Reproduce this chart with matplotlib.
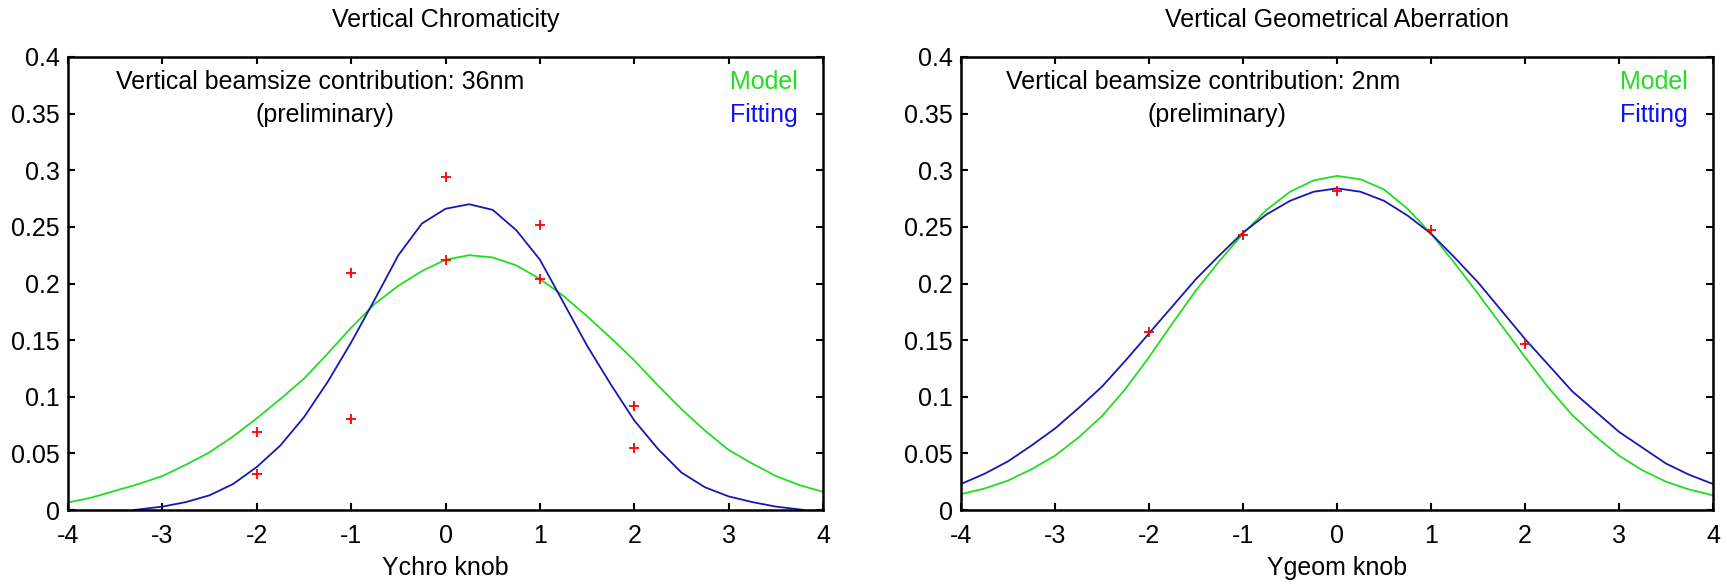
import numpy as np
import matplotlib
matplotlib.use("Agg")
import matplotlib.pyplot as plt

# ─── data ───
chro_pts_x = [-2, -2, -1, -1, 0, 0, 1, 1, 2, 2]
chro_pts_y = [0.069, 0.032, 0.209, 0.080, 0.294, 0.221, 0.252, 0.204, 0.092, 0.055]

chro_model_x = [-4, -3.75, -3.5, -3.25, -3, -2.75, -2.5, -2.25, -2, -1.75, -1.5,
                -1.25, -1, -0.75, -0.5, -0.25, 0, 0.25, 0.5, 0.75, 1, 1.25, 1.5,
                1.75, 2, 2.25, 2.5, 2.75, 3, 3.25, 3.5, 3.75, 4]
chro_model_y = [0.0066, 0.011, 0.017, 0.023, 0.030, 0.040, 0.051, 0.065, 0.081,
                0.098, 0.116, 0.138, 0.161, 0.182, 0.198, 0.211, 0.221, 0.225,
                0.223, 0.216, 0.204, 0.189, 0.171, 0.152, 0.132, 0.110, 0.089,
                0.070, 0.053, 0.041, 0.030, 0.022, 0.016]

chro_fit_x = [-3.3, -3, -2.75, -2.5, -2.25, -2, -1.75, -1.5, -1.25, -1, -0.75,
              -0.5, -0.25, 0, 0.25, 0.5, 0.75, 1, 1.25, 1.5, 1.75, 2, 2.25, 2.5,
              2.75, 3, 3.25, 3.5, 3.8]
chro_fit_y = [0.0, 0.003, 0.007, 0.013, 0.023, 0.038, 0.057, 0.082, 0.113, 0.148,
              0.186, 0.225, 0.253, 0.266, 0.270, 0.265, 0.247, 0.221, 0.183,
              0.145, 0.111, 0.079, 0.054, 0.033, 0.020, 0.012, 0.007, 0.003, 0.0]

geom_pts_x = [-2, -1, 0, 1, 2]
geom_pts_y = [0.157, 0.243, 0.282, 0.247, 0.147]

geom_x = [-4, -3.75, -3.5, -3.25, -3, -2.75, -2.5, -2.25, -2, -1.75, -1.5, -1.25,
          -1, -0.75, -0.5, -0.25, 0, 0.25, 0.5, 0.75, 1, 1.25, 1.5, 1.75, 2, 2.25,
          2.5, 2.75, 3, 3.25, 3.5, 3.75, 4]
geom_model_y = [0.014, 0.019, 0.026, 0.036, 0.048, 0.064, 0.083, 0.107, 0.135,
                0.165, 0.194, 0.220, 0.244, 0.265, 0.281, 0.291, 0.295, 0.292,
                0.283, 0.266, 0.244, 0.218, 0.191, 0.163, 0.135, 0.108, 0.084,
                0.065, 0.048, 0.035, 0.025, 0.018, 0.013]
geom_fit_y = [0.023, 0.032, 0.043, 0.057, 0.072, 0.090, 0.109, 0.132, 0.156,
              0.180, 0.204, 0.225, 0.245, 0.261, 0.273, 0.281, 0.284, 0.281,
              0.273, 0.260, 0.244, 0.223, 0.201, 0.176, 0.151, 0.128, 0.105,
              0.087, 0.069, 0.055, 0.041, 0.031, 0.023]

x_ticks = [-4, -3, -2, -1, 0, 1, 2, 3, 4]
y_ticks = [0, 0.05, 0.1, 0.15, 0.2, 0.25, 0.3, 0.35, 0.4]
y_labels = ["0", "0.05", "0.1", "0.15", "0.2", "0.25", "0.3", "0.35", "0.4"]

GREEN = "#22dd22"
BLUE = "#1818b0"
FS = 18

plt.rcParams["font.family"] = ["Liberation Sans", "DejaVu Sans"]
plt.rcParams["axes.unicode_minus"] = False

fig = plt.figure(figsize=(17.27, 5.84), dpi=100)
ax1 = fig.add_axes([0.0394, 0.1267, 0.4372, 0.7757])
ax2 = fig.add_axes([0.5565, 0.1267, 0.4354, 0.7757])

panels = [
    (ax1, "Vertical Chromaticity", "Ychro knob", "36nm",
     chro_model_x, chro_model_y, chro_fit_x, chro_fit_y, chro_pts_x, chro_pts_y, -1.33),
    (ax2, "Vertical Geometrical Aberration", "Ygeom knob", "2nm",
     geom_x, geom_model_y, geom_x, geom_fit_y, geom_pts_x, geom_pts_y, -1.42),
]

for ax, title, xlabel, contrib, mx, my, fx, fy, px, py, tx in panels:
    ax.plot(mx, my, color=GREEN, lw=1.3)
    ax.plot(fx, fy, color=BLUE, lw=1.3)
    ax.plot(px, py, "+", color="red", ms=7, mew=1.3)

    ax.set_xlim(-4, 4)
    ax.set_ylim(0, 0.4)
    ax.set_xticks(x_ticks)
    ax.set_yticks(y_ticks)
    ax.set_yticklabels(y_labels)
    ax.tick_params(direction="in", top=True, right=True, length=5, width=1.5,
                   labelsize=FS)
    ax.tick_params(axis="x", pad=10)
    ax.tick_params(axis="y", pad=6)
    for s in ax.spines.values():
        s.set_linewidth(1.8)

    ax.text(0.5, 1.082, title, transform=ax.transAxes, ha="center", va="center",
            fontsize=FS)
    ax.set_xlabel(xlabel, fontsize=FS, va="center")
    ax.xaxis.set_label_coords(0.5, -0.128)

    ax.text(tx, 0.378, f"Vertical beamsize contribution: {contrib}",
            ha="center", va="center", fontsize=FS)
    ax.text(-1.28, 0.349, "(preliminary)", ha="center", va="center", fontsize=FS)
    ax.text(3.73, 0.378, "Model", color=GREEN, ha="right", va="center", fontsize=FS)
    ax.text(3.73, 0.349, "Fitting", color="#1010ff", ha="right", va="center", fontsize=FS)

fig.savefig("out.png", dpi=100)
